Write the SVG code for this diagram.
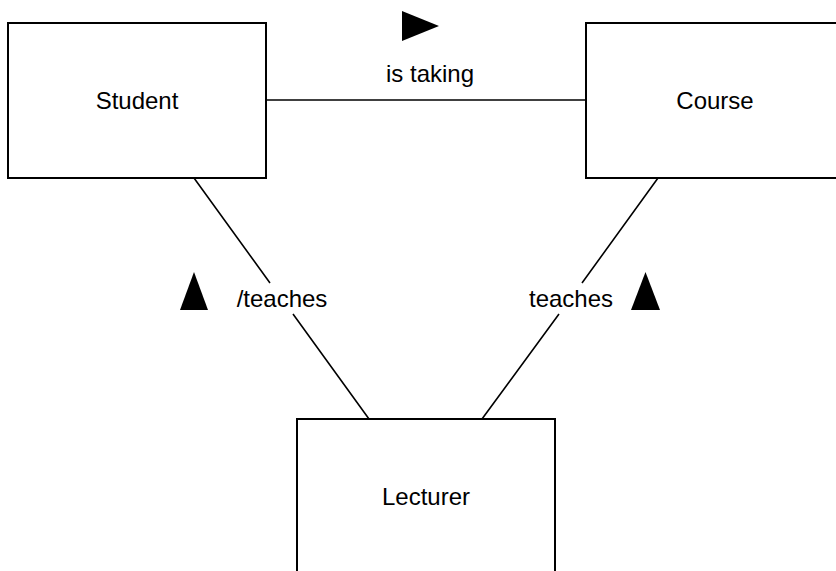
<svg xmlns="http://www.w3.org/2000/svg" width="836" height="571" viewBox="0 0 836 571">
<style>
.box{fill:#fff;stroke:#000;stroke-width:2}
.lbl{font-family:"Liberation Sans",Arial,sans-serif;font-size:24px;fill:#000;text-anchor:middle}
.conn{fill:none;stroke:#000;stroke-width:1.6}
.tri{fill:#000}
</style>
<rect width="836" height="571" fill="#fff"/>
<g id="connectors">
<path class="conn" d="M266,100 L586,100"/>
<path class="conn" d="M194,178 L270,283 M293,314 L369,419"/>
<path class="conn" d="M658,178 L582,283 M559,314 L482,419"/>
<polygon class="tri" points="402,11 439,26 402,41"/>
<polygon class="tri" points="194,272 208,310 180,310"/>
<polygon class="tri" points="645.5,272 660,310 631,310"/>
<text class="lbl" x="430" y="82">is taking</text>
<text class="lbl" x="282" y="307">/teaches</text>
<text class="lbl" x="571" y="307">teaches</text>
</g>
<g id="student">
<rect class="box" x="8" y="23" width="258" height="155"/>
<text class="lbl" x="137" y="109">Student</text>
</g>
<g id="course">
<rect class="box" x="586" y="23" width="258" height="155"/>
<text class="lbl" x="715" y="109">Course</text>
</g>
<g id="lecturer">
<rect class="box" x="297" y="419" width="258" height="155"/>
<text class="lbl" x="426" y="505">Lecturer</text>
</g>
</svg>
